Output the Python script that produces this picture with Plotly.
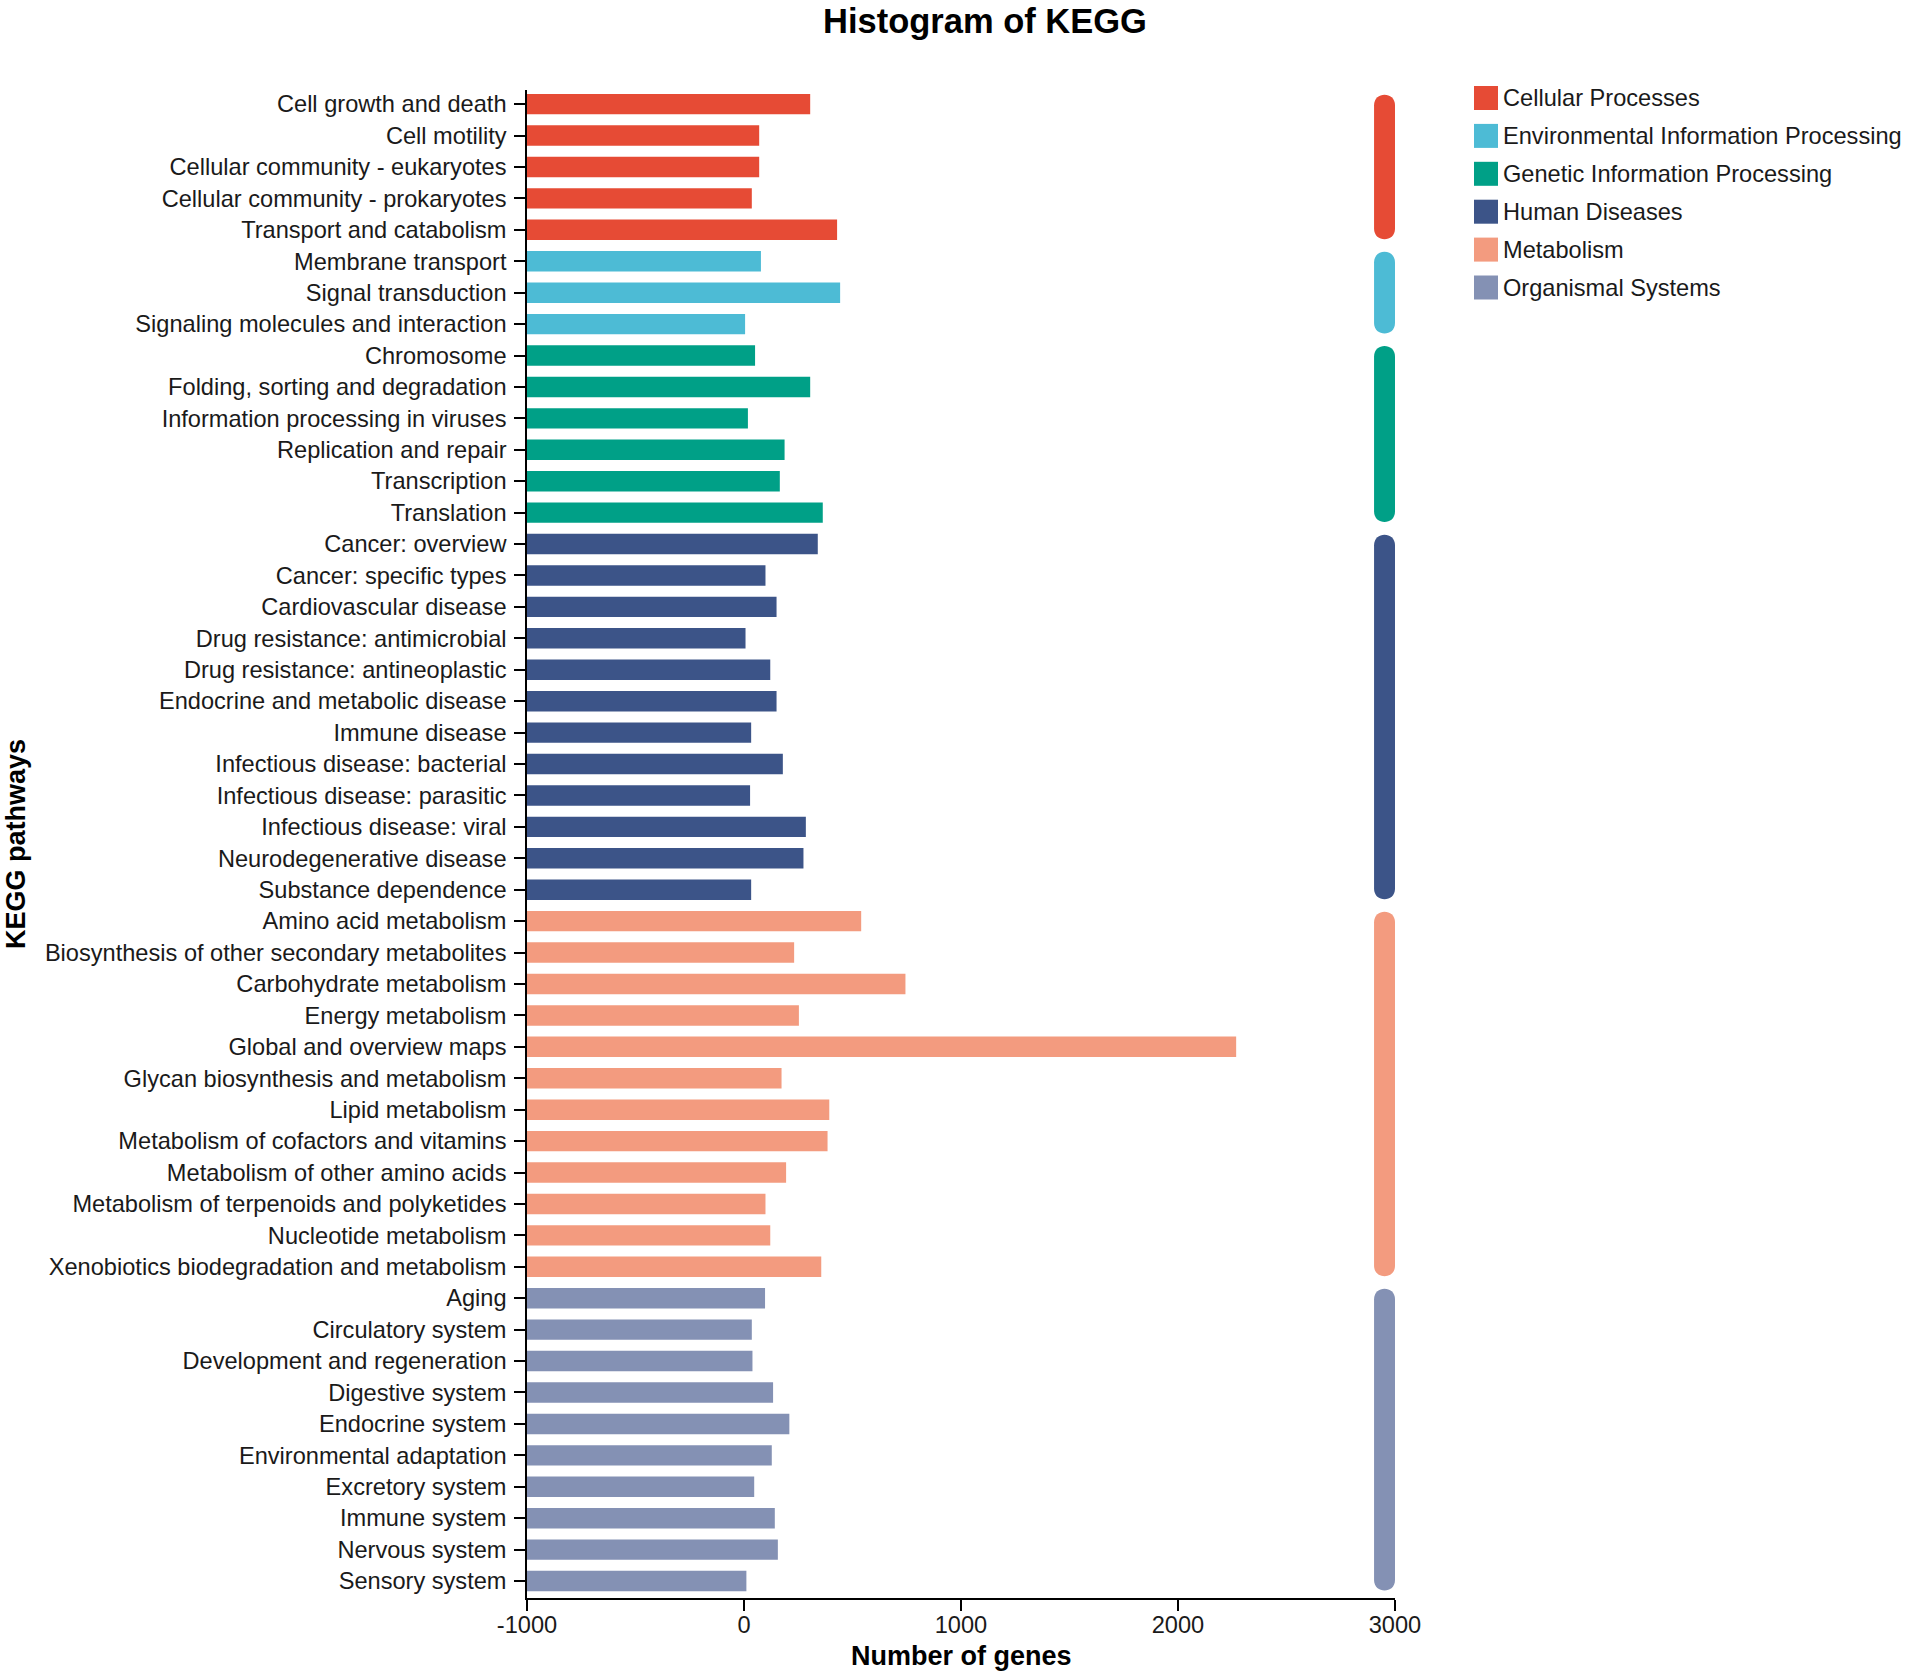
import plotly.graph_objects as go

# ---------------- data ----------------
pathways = [
    "Cell growth and death", "Cell motility", "Cellular community - eukaryotes",
    "Cellular community - prokaryotes", "Transport and catabolism",
    "Membrane transport", "Signal transduction", "Signaling molecules and interaction",
    "Chromosome", "Folding, sorting and degradation", "Information processing in viruses",
    "Replication and repair", "Transcription", "Translation",
    "Cancer: overview", "Cancer: specific types", "Cardiovascular disease",
    "Drug resistance: antimicrobial", "Drug resistance: antineoplastic",
    "Endocrine and metabolic disease", "Immune disease", "Infectious disease: bacterial",
    "Infectious disease: parasitic", "Infectious disease: viral",
    "Neurodegenerative disease", "Substance dependence",
    "Amino acid metabolism", "Biosynthesis of other secondary metabolites",
    "Carbohydrate metabolism", "Energy metabolism", "Global and overview maps",
    "Glycan biosynthesis and metabolism", "Lipid metabolism",
    "Metabolism of cofactors and vitamins", "Metabolism of other amino acids",
    "Metabolism of terpenoids and polyketides", "Nucleotide metabolism",
    "Xenobiotics biodegradation and metabolism",
    "Aging", "Circulatory system", "Development and regeneration", "Digestive system",
    "Endocrine system", "Environmental adaptation", "Excretory system",
    "Immune system", "Nervous system", "Sensory system",
]
gene_counts = [
    305, 70, 70, 36, 429,
    78, 443, 5,
    51, 305, 18, 187, 165, 363,
    340, 99, 150, 7, 121, 150, 33, 179, 28, 285, 274, 33,
    540, 231, 744, 253, 2268, 173, 393, 385, 194, 99, 121, 356,
    97, 36, 39, 134, 209, 128, 47, 142, 156, 11,
]
group_names = [
    "Cellular Processes", "Environmental Information Processing",
    "Genetic Information Processing", "Human Diseases", "Metabolism",
    "Organismal Systems",
]
group_sizes = [5, 3, 6, 12, 12, 10]
group_colors = ["#E64B35", "#4DBBD5", "#00A087", "#3C5488", "#F39B7F", "#8491B4"]
x_ticks = [-1000, 0, 1000, 2000, 3000]
axis_min = -1000
axis_max = 3000

# ---------------- layout constants ----------------
W, H = 1907, 1675
# plot area in window pixels
PX0, PX1, PY0, PY1 = 527, 1395, 90, 1598
L, R = PX0, W - PX1
T, B = PY0, H - PY1
PW, PH = PX1 - PX0, PY1 - PY0
FONT = "Liberation Sans, Arial, Helvetica, sans-serif"
TXT = "#1a1a1a"

def paper_x(px):
    return (px - PX0) / PW

def paper_y(py):
    return 1 - (py - PY0) / PH

# expand group info per bar
bar_groups = []
for gi, n in enumerate(group_sizes):
    bar_groups += [gi] * n
bar_colors = [group_colors[g] for g in bar_groups]
ypos = list(range(len(pathways)))

fig = go.Figure()
fig.add_trace(go.Bar(
    y=ypos,
    x=[v - axis_min for v in gene_counts],
    base=[axis_min] * len(gene_counts),
    orientation="h",
    width=0.65,
    marker=dict(color=bar_colors, line=dict(width=0)),
    customdata=gene_counts,
    hovertext=pathways,
    textposition="none",
    hovertemplate="%{hovertext}: %{customdata}<extra></extra>",
    showlegend=False,
))

# ---------------- side group bars (rounded) ----------------
shapes = []
start = 0
x0s, x1s = 2903.5, 3000
ry = 0.334
for gi, n in enumerate(group_sizes):
    yt = start - 0.3
    yb = start + n - 1 + 0.3
    k = 4.0 / 3.0 * ry
    path = (
        f"M {x0s},{yt + ry} "
        f"C {x0s},{yt + ry - k} {x1s},{yt + ry - k} {x1s},{yt + ry} "
        f"L {x1s},{yb - ry} "
        f"C {x1s},{yb - ry + k} {x0s},{yb - ry + k} {x0s},{yb - ry} Z"
    )
    shapes.append(dict(type="path", xref="x", yref="y", path=path,
                       fillcolor=group_colors[gi], line=dict(width=0), layer="above"))
    start += n

# ---------------- manual legend ----------------
annotations = []
leg_x0, leg_sq = 1474, 24
leg_y0, leg_dy = 98, 37.9
for i, (name, col) in enumerate(zip(group_names, group_colors)):
    cy = leg_y0 + i * leg_dy
    shapes.append(dict(type="rect", xref="paper", yref="paper",
                       x0=paper_x(leg_x0), x1=paper_x(leg_x0 + leg_sq),
                       y0=paper_y(cy - leg_sq / 2), y1=paper_y(cy + leg_sq / 2),
                       fillcolor=col, line=dict(width=0)))
    annotations.append(dict(xref="paper", yref="paper", x=paper_x(1501), y=paper_y(cy),
                            xanchor="left", yanchor="middle", showarrow=False,
                            text=name, font=dict(family=FONT, size=23.6, color=TXT)))

# axis titles
annotations.append(dict(xref="paper", yref="paper", x=0.5, y=paper_y(1656),
                        xanchor="center", yanchor="middle", showarrow=False,
                        text="<b>Number of genes</b>",
                        font=dict(family=FONT, size=27, color="#000")))
annotations.append(dict(xref="paper", yref="paper", x=paper_x(16), y=0.5,
                        xanchor="center", yanchor="middle", showarrow=False, textangle=-90,
                        text="<b>KEGG pathways</b>",
                        font=dict(family=FONT, size=27, color="#000")))

fig.update_layout(
    width=W, height=H,
    margin=dict(l=L, r=R, t=T, b=B, pad=0),
    paper_bgcolor="white", plot_bgcolor="white",
    title=dict(text="<b>Histogram of KEGG</b>", x=985 / W, xref="container",
               xanchor="center", y=1 - 21 / H, yref="container", yanchor="middle",
               font=dict(family=FONT, size=34.5, color="#000")),
    shapes=shapes,
    annotations=annotations,
    showlegend=False,
    bargap=0.35,
)
fig.update_xaxes(
    range=[axis_min, axis_max], tickvals=x_ticks, ticktext=[str(t) for t in x_ticks],
    showgrid=False, zeroline=False, showline=True, linecolor="#000", linewidth=1.5,
    ticks="outside", ticklen=11, tickwidth=1.5, tickcolor="#000",
    ticklabelstandoff=-6,
    tickfont=dict(family=FONT, size=23.6, color=TXT),
)
fig.update_yaxes(
    range=[len(pathways) - 1 + 0.54, -0.45], tickvals=ypos, ticktext=pathways,
    showgrid=False, zeroline=False, showline=True, linecolor="#000", linewidth=1.5,
    ticks="outside", ticklen=11, tickwidth=1.5, tickcolor="#000",
    ticklabelstandoff=3,
    tickfont=dict(family=FONT, size=23.6, color=TXT),
)

# remove the page's default 8px body margin so the figure fills the window exactly
fig.write_html("out.html",
               config={"displayModeBar": False},
               post_script="document.body.style.margin='0';document.body.style.overflow='hidden';")
